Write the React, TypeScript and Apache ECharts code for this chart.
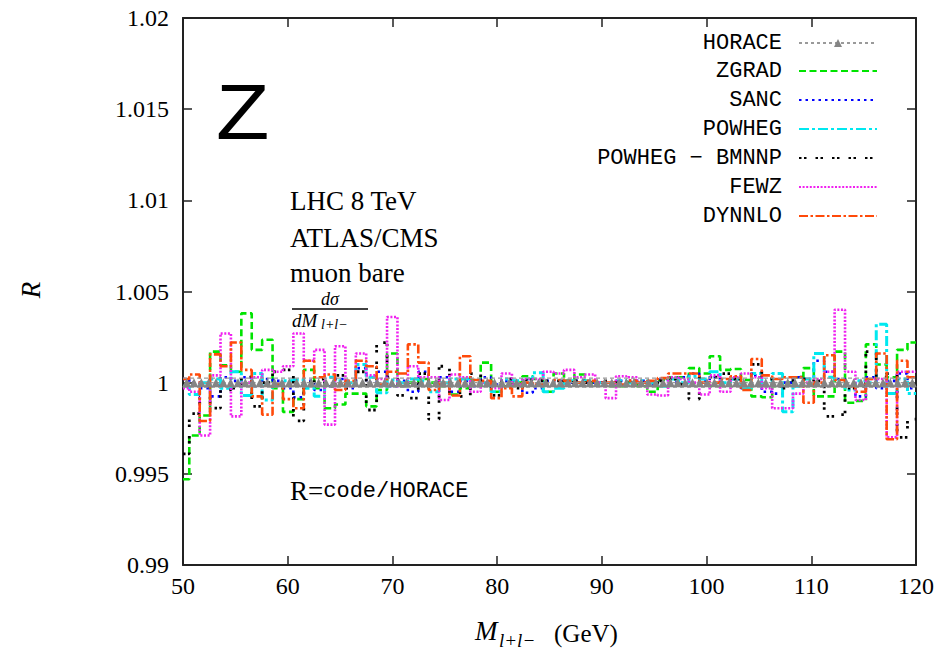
import React, { useEffect, useRef } from "react";
import * as echarts from "echarts";

// ---- data (R = code / HORACE), one value per bin ----
const X_MIN = 50;
const X_MAX = 120;
// bin lower edges (GeV): first partial bin from 50, then ~1 GeV bins
const BIN_EDGES = [50, ...Array.from({ length: 70 }, (_, k) => +(50.6 + k * 0.994).toFixed(3))];

const ZGRAD = [
  0.9947, 0.9971, 0.9982, 1.0017, 1.00095, 1.0006, 1.0038, 1.0018, 1.00235, 0.9997,
  0.9984, 0.9991, 1.0007, 0.9997, 0.9986, 0.9988, 0.9994, 0.9994, 0.9987, 0.9996,
  1.0016, 0.9998, 1.0, 1.0002, 1.0, 0.9998, 0.99935, 0.9997, 1.00015, 1.0011,
  0.9995, 0.9998, 1.0, 1.00035, 1.0002, 0.9995, 1.0005, 1.0001, 1.00045, 1.0,
  1.0, 0.9998, 0.9998, 1.0, 0.9998, 0.9995, 1.00015, 1.0003, 1.0003, 1.0008,
  1.0005, 1.00145, 1.0007, 1.00075, 1.00015, 0.99925, 0.9992, 0.9998, 1.0, 1.0003,
  1.0008, 0.99925, 0.99925, 1.0017, 0.9989, 0.999, 1.0021, 1.001, 1.0003, 1.0018,
  1.0022,
];
const SANC = [
  1.0002, 1.0, 0.9997, 0.99925, 1.0003, 1.0001, 1.0003, 0.9998, 1.0002, 1.0001,
  0.9997, 0.9992, 1.0001, 0.9996, 0.9998, 1.0002, 0.9997, 1.0008, 1.0, 1.0006,
  0.9998, 1.0001, 0.9995, 1.0006, 0.9998, 1.0003, 0.9995, 1.0001, 0.9998, 1.0003,
  0.9999, 1.0001, 1.0, 0.99945, 0.9997, 1.0001, 1.0001, 1.0, 1.0001, 1.0,
  1.0, 0.9999, 1.0001, 1.0, 1.0001, 0.9999, 1.0002, 1.0, 1.0003, 1.0005,
  1.0001, 1.0003, 1.0, 1.0002, 0.9997, 1.0004, 0.9995, 0.9994, 1.0, 1.0003,
  1.0002, 1.0012, 1.0006, 1.0002, 0.9998, 0.99925, 1.0003, 0.9997, 1.0001, 1.0005,
  0.9997,
];
const POWHEG = [
  0.9998, 0.99935, 1.0, 1.0002, 0.9997, 1.0006, 0.9993, 1.0005, 0.99905, 0.9999,
  1.0001, 1.00015, 0.9997, 0.99925, 1.0003, 1.0001, 1.0, 1.001, 1.0003, 0.99945,
  1.00015, 1.0, 1.0002, 1.0001, 0.9995, 1.0, 1.0002, 1.0002, 1.0001, 1.0,
  0.9995, 1.0002, 1.0001, 1.0002, 1.00055, 0.9995, 0.9997, 1.0001, 1.0, 1.0001,
  1.0, 0.9999, 1.0001, 1.0, 1.0001, 1.0, 0.9998, 1.0002, 1.0, 1.00035,
  1.0002, 1.0006, 1.0, 1.0002, 0.9997, 1.0005, 0.9998, 1.0005, 0.9984, 0.9998,
  1.0002, 1.0016, 1.0003, 1.0001, 0.9996, 1.0001, 1.0, 1.0032, 0.9994, 1.0002,
  0.9994,
];
const BMNNP = [
  0.9961, 0.9983, 0.9992, 0.9986, 0.9996, 0.9997, 1.0003, 0.9987, 1.0, 1.0006,
  1.0007, 0.9979, 1.0, 1.0002, 0.9998, 1.0004, 0.9997, 1.0006, 0.9985, 1.0022,
  1.0003, 0.9993, 0.99915, 1.0005, 0.998, 1.0009, 0.99945, 0.99925, 1.0005, 1.0001,
  0.9993, 1.0002, 0.9997, 1.00015, 1.0001, 1.0001, 1.0001, 1.0, 1.0001, 1.0,
  1.0, 1.0001, 1.0, 1.0001, 1.0, 0.9999, 1.0001, 1.0002, 0.9999, 0.9991,
  1.0003, 1.0003, 1.0005, 1.0002, 1.0002, 1.001, 1.0002, 0.9998, 0.9997, 1.0003,
  1.0002, 1.0001, 0.99815, 0.99825, 0.9997, 0.9998, 1.0017, 1.0003, 1.0005, 0.997,
  0.998,
];
const FEWZ = [
  0.9997, 0.9995, 0.9971, 1.0004, 1.0027, 0.99815, 1.0, 1.0003, 1.0007, 1.0006,
  1.0009, 1.0027, 1.0012, 1.0018, 0.9977, 1.002, 0.9998, 1.0016, 1.0004, 1.0002,
  1.0036, 0.9998, 1.0009, 1.0003, 1.0003, 0.99905, 1.00045, 1.0003, 0.9995, 1.0,
  0.9997, 1.0005, 0.9999, 1.0002, 1.0002, 1.0006, 1.0005, 1.0007, 1.0003, 1.00045,
  1.0, 0.99915, 1.00035, 1.0003, 1.0, 0.99935, 0.9993, 1.0003, 1.0002, 1.0,
  0.99935, 1.0004, 0.9995, 1.0003, 1.0005, 1.0003, 0.9997, 0.9986, 0.9986, 0.9994,
  1.0, 1.0002, 1.0006, 1.004, 1.0006, 0.99905, 1.0002, 1.0002, 0.997, 1.0006,
  1.0006,
];
const DYNNLO = [
  1.0002, 1.00045, 0.9979, 1.00155, 1.0009, 1.0022, 1.0007, 0.99925, 0.99825, 0.9999,
  0.9991, 0.9986, 1.0012, 1.0003, 1.00045, 0.9996, 1.0001, 1.0012, 1.0009, 0.9999,
  1.0006, 1.0005, 1.0021, 1.0011, 0.9996, 1.0, 0.9993, 1.00145, 1.00015, 1.0001,
  0.99915, 0.9997, 0.99925, 1.0, 0.9999, 0.9999, 1.00015, 1.0001, 1.0, 1.0001,
  1.0, 1.0, 0.9999, 1.0001, 1.0, 1.0001, 1.00025, 1.0005, 1.0005, 1.0005,
  1.0, 1.0, 1.0002, 1.00035, 0.9996, 1.0013, 1.0004, 1.0002, 1.0003, 1.0003,
  0.9989, 1.0, 1.0015, 1.00015, 0.9998, 0.9995, 1.0002, 1.0016, 0.9969, 1.0012,
  1.0003,
];
// HORACE is the reference: R = 1, drawn with triangle markers
const HORACE_X = Array.from({ length: 100 }, (_, i) => +(50.35 + 0.7 * i).toFixed(2));
const HORACE = HORACE_X.map(() => 1);
const HORACE_ERR = 0.00025;

const Y_TICKS = { min: 0.99, max: 1.02, interval: 0.005 };
const X_TICKS = { min: X_MIN, max: X_MAX, interval: 10 };

const SERIES_NAMES = ["HORACE", "ZGRAD", "SANC", "POWHEG", "POWHEG − BMNNP", "FEWZ", "DYNNLO"];
const SERIES_VALUES: Record<string, number[]> = {
  ZGRAD,
  SANC,
  POWHEG,
  "POWHEG − BMNNP": BMNNP,
  FEWZ,
  DYNNLO,
};

// ---- styles ----
const STYLES: Record<string, { color: string; type: any; width: number }> = {
  ZGRAD: { color: "#00e400", type: [7, 3.5], width: 2.6 },
  SANC: { color: "#0000ff", type: [2.5, 4], width: 2.6 },
  POWHEG: { color: "#00e8f0", type: [10, 3, 3, 3], width: 3 },
  "POWHEG − BMNNP": { color: "#000000", type: [2.5, 2.5, 2.5, 9], width: 2.8 },
  FEWZ: { color: "#f020f0", type: [2, 1.6], width: 2.6 },
  DYNNLO: { color: "#ff4a0a", type: [9, 2.5, 2.5, 2.5], width: 2.6 },
};
const LEGEND_ROWS = [44, 72, 101, 130, 159, 188, 217];

const stepData = (vals: number[]) => [
  ...vals.map((v, i) => [BIN_EDGES[i], v]),
  [X_MAX, vals[vals.length - 1]],
];

const SERIF = "Liberation Serif";
const MONO = "Liberation Mono";
const FRAME = "#222";

export default function App() {
  const ref = useRef<HTMLDivElement>(null);
  useEffect(() => {
    document.body.style.margin = "0";
    if (!ref.current) return;
    const chart = echarts.init(ref.current, undefined, { renderer: "svg" });

    const axisCommon = {
      type: "value",
      axisLine: { onZero: false, lineStyle: { color: FRAME, width: 2 } },
      axisTick: { inside: true, length: 9, lineStyle: { color: FRAME, width: 1.5 } },
      splitLine: { show: false },
    };

    const series: any[] = [];
    SERIES_NAMES.slice(1).forEach((name) => {
      const st = STYLES[name];
      series.push({
        name,
        type: "line",
        step: "end",
        data: stepData(SERIES_VALUES[name]),
        symbol: "none",
        color: st.color,
        lineStyle: { color: st.color, width: st.width, type: st.type, cap: "butt" },
        z: 3,
      });
    });
    series.push({
      name: "HORACE_up",
      type: "line",
      data: [[X_MIN, 1 + HORACE_ERR], [X_MAX, 1 + HORACE_ERR]],
      symbol: "none",
      silent: true,
      lineStyle: { color: "#9a9a9a", width: 1.2, type: [4, 3] },
      z: 8,
    });
    series.push({
      name: "HORACE_dn",
      type: "line",
      data: [[X_MIN, 1 - HORACE_ERR], [X_MAX, 1 - HORACE_ERR]],
      symbol: "none",
      silent: true,
      lineStyle: { color: "#9a9a9a", width: 1.2, type: [4, 3] },
      z: 8,
    });
    series.push({
      name: "HORACE",
      type: "line",
      data: HORACE_X.map((x, i) => [x, HORACE[i]]),
      symbol: "triangle",
      symbolSize: 9,
      color: "#858585",
      itemStyle: { color: "#858585" },
      lineStyle: { color: "#9a9a9a", width: 1.2, type: [3, 3] },
      z: 10,
    });

    const legends = SERIES_NAMES.map((name, i) => ({
      data: [name],
      right: 65,
      top: LEGEND_ROWS[i] - 12,
      align: "right",
      orient: "horizontal",
      padding: 0,
      itemWidth: 78,
      itemHeight: 10,
      selectedMode: false,
      itemStyle: name === "HORACE" ? { color: "#858585" } : { opacity: 0 },
      textStyle: {
        fontFamily: MONO,
        fontSize: 22,
        color: "#000",
        padding: [0, 12, 0, 0],
      },
    }));

    const option: any = {
      animation: false,
      backgroundColor: "#ffffff",
      grid: { left: 183, right: 27, top: 18, bottom: 87, containLabel: false },
      xAxis: [
        {
          ...axisCommon,
          ...X_TICKS,
          position: "bottom",
          axisLabel: { color: "#000", fontFamily: SERIF, fontSize: 24, margin: 9 },
        },
        {
          ...axisCommon,
          ...X_TICKS,
          position: "top",
          axisLabel: { show: false },
        },
      ],
      yAxis: [
        {
          ...axisCommon,
          ...Y_TICKS,
          position: "left",
          axisLabel: {
            color: "#000",
            fontFamily: SERIF,
            fontSize: 24,
            margin: 14,
            formatter: (v: number) => String(+v.toFixed(3)),
          },
        },
        {
          ...axisCommon,
          ...Y_TICKS,
          position: "right",
          axisLabel: { show: false },
        },
      ],
      legend: legends,
      series,
      graphic: [
        {
          type: "text",
          x: 216,
          y: 112,
          style: { text: "Z", font: "78px 'Liberation Sans'", fill: "#000", align: "left", verticalAlign: "middle" },
          scaleX: 1.12,
        },
        {
          type: "text",
          x: 290,
          y: 201,
          style: { text: "LHC 8 TeV", font: `27px '${SERIF}'`, fill: "#000", align: "left", verticalAlign: "middle" },
        },
        {
          type: "text",
          x: 290,
          y: 238,
          style: { text: "ATLAS/CMS", font: `27px '${SERIF}'`, fill: "#000", align: "left", verticalAlign: "middle" },
        },
        {
          type: "text",
          x: 290,
          y: 273,
          style: { text: "muon bare", font: `27px '${SERIF}'`, fill: "#000", align: "left", verticalAlign: "middle" },
        },
        {
          type: "text",
          x: 330,
          y: 299,
          style: { text: "dσ", font: `italic 18px '${SERIF}'`, fill: "#000", align: "center", verticalAlign: "middle" },
        },
        {
          type: "line",
          shape: { x1: 292, y1: 309, x2: 368, y2: 309 },
          style: { stroke: "#000", lineWidth: 1.5 },
        },
        {
          type: "text",
          x: 292,
          y: 320,
          style: { text: "dM", font: `italic 19px '${SERIF}'`, fill: "#000", align: "left", verticalAlign: "middle" },
        },
        {
          type: "text",
          x: 321,
          y: 324,
          style: { text: "l+l−", font: `italic 14px '${SERIF}'`, fill: "#000", align: "left", verticalAlign: "middle" },
        },
        {
          type: "text",
          x: 290,
          y: 491,
          style: {
            text: "{a|R=}{b|code/HORACE}",
            rich: {
              a: { fontFamily: SERIF, fontSize: 27, fill: "#000" },
              b: { fontFamily: MONO, fontSize: 22, fill: "#000" },
            },
            align: "left",
            verticalAlign: "middle",
          },
        },
        {
          type: "text",
          x: 31,
          y: 290,
          rotation: Math.PI / 2,
          style: { text: "R", font: `italic 27px '${SERIF}'`, fill: "#000", align: "center", verticalAlign: "middle" },
        },
        {
          type: "text",
          x: 475,
          y: 631,
          style: { text: "M", font: `italic 27px '${SERIF}'`, fill: "#000", align: "left", verticalAlign: "middle" },
        },
        {
          type: "text",
          x: 499,
          y: 640,
          style: { text: "l+l−", font: `italic 19px '${SERIF}'`, fill: "#000", align: "left", verticalAlign: "middle" },
        },
        {
          type: "text",
          x: 554,
          y: 633,
          style: { text: "(GeV)", font: `25px '${SERIF}'`, fill: "#000", align: "left", verticalAlign: "middle" },
        },
      ],
    };
    chart.setOption(option);
    return () => chart.dispose();
  }, []);
  return <div ref={ref} style={{ width: 943, height: 652 }} />;
}
